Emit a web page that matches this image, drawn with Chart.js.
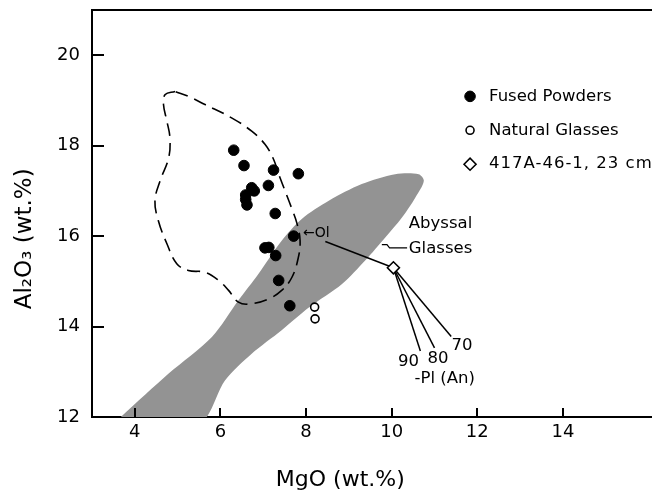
<!DOCTYPE html>
<html>
<head>
<meta charset="utf-8">
<script src="https://cdn.jsdelivr.net/npm/chart.js@4.4.1/dist/chart.umd.min.js"></script>
<style>
  html, body { margin: 0; padding: 0; background: #fff; overflow: hidden; }
  #wrap { width: 652px; height: 499px; }
</style>
</head>
<body>
<div id="wrap"><canvas id="chart" width="652" height="499"></canvas></div>
<script>
// ---- data ----
const xTicks = [4, 6, 8, 10, 12, 14];
const yTicks = [12, 14, 16, 18, 20];

// fused powders (filled dots)
const fusedMgO = [6.31, 6.55, 7.24, 7.82, 7.12, 6.73, 6.79, 6.59, 6.59, 6.62, 7.28, 7.71, 7.04, 7.13, 7.29, 7.36, 7.62];
const fusedAl  = [17.90, 17.56, 17.46, 17.38, 17.12, 17.07, 17.00, 16.91, 16.81, 16.69, 16.50, 16.00, 15.74, 15.75, 15.57, 15.02, 14.46];

// natural glasses (open circles)
const naturalMgO = [8.20, 8.21];
const naturalAl  = [14.43, 14.17];

// 417A-46-1, 23 cm (diamond)
const coreMgO = [10.04];
const coreAl  = [15.30];

// olivine control point and plagioclase (An 90/80/70) ends of the tie lines
const olMgO = [8.45];
const olAl  = [15.88];
const plagMgO = [10.67, 11.00, 11.39];
const plagAl  = [13.46, 13.53, 13.78];
const plagNames = ['90', '80', '70'];

// abyssal glasses field (stippled)
const bandMgO = [3.50, 4.79, 5.80, 6.42, 6.89, 7.43, 7.90, 8.53, 9.30, 10.08, 10.63, 10.75, 10.55, 10.24, 9.85, 9.38, 8.84, 8.08, 7.43, 6.73, 6.11, 5.50, 3.50];
const bandAl  = [11.85, 12.96, 13.77, 14.58, 15.17, 15.90, 16.38, 16.78, 17.15, 17.37, 17.37, 17.22, 16.85, 16.41, 15.97, 15.46, 14.94, 14.43, 13.92, 13.40, 12.81, 11.85, 11.85];

// dashed field
const fieldMgO = [4.94, 4.71, 4.67, 4.75, 4.82, 4.79, 4.59, 4.47, 4.55, 4.75, 4.98, 5.25, 5.64, 5.96, 6.19, 6.42, 6.69, 7.12, 7.43, 7.67, 7.82, 7.86, 7.79, 7.67, 7.51, 7.36, 7.24, 7.04, 6.73, 6.27, 5.64, 5.25, 4.94];
const fieldAl  = [19.20, 19.13, 18.91, 18.54, 18.17, 17.73, 17.22, 16.78, 16.34, 15.83, 15.39, 15.24, 15.20, 15.02, 14.80, 14.54, 14.50, 14.61, 14.80, 15.09, 15.53, 15.90, 16.27, 16.60, 17.00, 17.37, 17.70, 18.03, 18.32, 18.61, 18.91, 19.09, 19.20];

// leader from "Glasses" label into the band
const leaderMgO = [9.77, 9.89, 9.95, 10.36];
const leaderAl  = [15.81, 15.81, 15.74, 15.74];

const xTitle = 'MgO (wt.%)';
const yTitle = 'Al\u2082O\u2083 (wt.%)';

const FONT = "'DejaVu Sans', 'Liberation Sans', sans-serif";

function pts(xs, ys) { return xs.map((x, i) => ({ x: x, y: ys[i] })); }

const ctx = document.getElementById('chart').getContext('2d');

const lineSet = (data) => ({
    data: data, showLine: true, pointRadius: 0, borderColor: '#000',
    borderWidth: 1.5, fill: false, order: 3
});

const datasets = [
    { label: 'Fused Powders', data: pts(fusedMgO, fusedAl), pointStyle: 'circle', pointRadius: 5.3,
      backgroundColor: '#000', borderColor: '#000', borderWidth: 1, order: 1 },
    { label: 'Natural Glasses', data: pts(naturalMgO, naturalAl), pointStyle: 'circle', pointRadius: 4,
      backgroundColor: '#fff', borderColor: '#000', borderWidth: 1.6, order: 1 },
    { label: '417A-46-1, 23 cm', data: pts(coreMgO, coreAl), pointStyle: 'rectRot', pointRadius: 6,
      backgroundColor: '#fff', borderColor: '#000', borderWidth: 1.6, order: 0 },
    lineSet(pts([olMgO[0], coreMgO[0]], [olAl[0], coreAl[0]]))
];
plagMgO.forEach((m, i) => datasets.push(lineSet(pts([coreMgO[0], m], [coreAl[0], plagAl[i]]))));
datasets.push(Object.assign(lineSet(pts(leaderMgO, leaderAl)), { borderWidth: 1.2 }));
datasets.push({ data: pts(fieldMgO, fieldAl), showLine: true, pointRadius: 0, borderColor: '#000',
    borderWidth: 1.6, borderDash: [13, 7], tension: 0.4, fill: false, order: 4 });
datasets.push({ data: pts(bandMgO, bandAl), showLine: true, pointRadius: 0, borderWidth: 0,
    borderColor: 'rgba(0,0,0,0)', backgroundColor: '#939393', fill: 'shape', tension: 0.3, order: 5 });

// text placed on the plot, in data units
const notes = [
    { text: '\u2190Ol', x: 7.93, y: 16.07, size: 14, align: 'left' },
    { text: 'Abyssal', x: 10.40, y: 16.27, size: 16.5, align: 'left' },
    { text: 'Glasses', x: 10.40, y: 15.72, size: 16.5, align: 'left' },
    { text: plagNames[0], x: 10.39, y: 13.23, size: 16.5, align: 'center' },
    { text: plagNames[1], x: 11.08, y: 13.29, size: 16.5, align: 'center' },
    { text: plagNames[2], x: 11.64, y: 13.57, size: 16.5, align: 'center' },
    { text: '-Pl (An)', x: 11.24, y: 12.84, size: 16.5, align: 'center' }
];

const frame = {
    id: 'frame',
    afterDraw(chart) {
        const c = chart.ctx, a = chart.chartArea;
        const xs = chart.scales.x, ys = chart.scales.y;
        c.save();
        c.strokeStyle = '#000';
        c.lineWidth = 2;
        c.beginPath();
        c.moveTo(a.left, a.top); c.lineTo(a.right, a.top);
        // inward tick marks
        ys.ticks.forEach(t => {
            const y = Math.round(ys.getPixelForValue(t.value));
            c.moveTo(a.left, y); c.lineTo(a.left + 12, y);
        });
        xs.ticks.forEach(t => {
            const x = Math.round(xs.getPixelForValue(t.value));
            c.moveTo(x, a.bottom); c.lineTo(x, a.bottom - 9);
        });
        c.stroke();

        c.fillStyle = '#000';
        c.textBaseline = 'middle';
        notes.forEach(n => {
            c.font = n.size + 'px ' + FONT;
            c.textAlign = n.align;
            c.fillText(n.text, xs.getPixelForValue(n.x), ys.getPixelForValue(n.y));
        });

        // axis titles (the original frame runs past the crop, so they sit left of centre)
        c.textAlign = 'center';
        c.font = '22px ' + FONT;
        c.fillText(xTitle, xs.getPixelForValue(8.8), 480);
        c.save();
        c.translate(25, ys.getPixelForValue(15.94));
        c.rotate(-Math.PI / 2);
        c.font = '23px ' + FONT;
        c.fillText(yTitle, 0, 0);
        c.restore();

        // legend
        const lx = xs.getPixelForValue(11.83);
        const lyVals = [19.09, 18.34, 17.59];
        c.font = '16.5px ' + FONT;
        c.textAlign = 'left';
        [0, 1, 2].forEach(i => {
            const ds = chart.data.datasets[i];
            const ly = ys.getPixelForValue(lyVals[i]);
            c.fillStyle = ds.backgroundColor;
            c.strokeStyle = ds.borderColor;
            c.lineWidth = ds.borderWidth;
            Chart.helpers.drawPoint(c, { pointStyle: ds.pointStyle, radius: ds.pointRadius, borderWidth: ds.borderWidth, rotation: 0 }, lx, ly);
            c.fillStyle = '#000';
            c.letterSpacing = i === 2 ? '1px' : '0px';
            c.fillText(ds.label, lx + 19, ly);
        });
        c.restore();
    }
};

new Chart(ctx, {
    type: 'scatter',
    data: { datasets: datasets },
    options: {
        responsive: false,
        animation: false,
        events: [],
        layout: { autoPadding: false, padding: { top: 10, right: 0, bottom: 0, left: 0 } },
        plugins: { legend: { display: false }, tooltip: { enabled: false } },
        scales: {
            x: {
                type: 'linear', min: 3, max: 16.08,
                afterBuildTicks: s => { s.ticks = xTicks.map(v => ({ value: v })); },
                afterFit: s => { s.height = 82; s.paddingLeft = 0; s.paddingRight = 0; },
                grid: { drawOnChartArea: false, drawTicks: false },
                border: { color: '#000', width: 2 },
                ticks: { color: '#000', padding: 5, font: { family: FONT, size: 18 } },
                title: { display: false }
            },
            y: {
                type: 'linear', min: 12, max: 21,
                afterBuildTicks: s => { s.ticks = yTicks.map(v => ({ value: v })); },
                afterFit: s => { s.width = 92; s.paddingTop = 0; s.paddingBottom = 0; },
                grid: { drawOnChartArea: false, drawTicks: false },
                border: { color: '#000', width: 2 },
                ticks: { color: '#000', padding: 12, font: { family: FONT, size: 18 } },
                title: { display: false }
            }
        }
    },
    plugins: [frame]
});
</script>
</body>
</html>
